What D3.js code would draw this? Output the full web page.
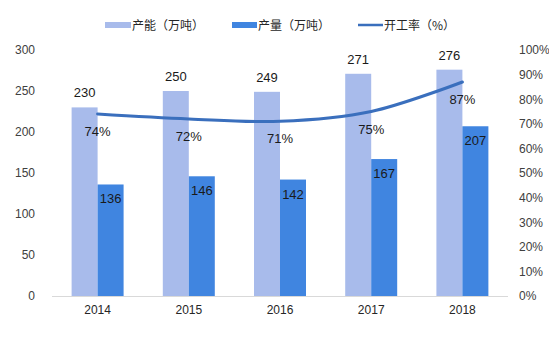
<!DOCTYPE html>
<html>
<head>
<meta charset="utf-8">
<script src="https://cdn.jsdelivr.net/npm/d3@7"></script>
<style>
  html, body { margin: 0; padding: 0; background: #fff; }
  svg { display: block; font-family: "Liberation Sans", Arial, "Noto Sans CJK SC", sans-serif; }
</style>
</head>
<body>
<svg id="chart" width="549" height="340"></svg>
<script>
// Capacity, output and utilisation rate by year
const years = ["2014", "2015", "2016", "2017", "2018"];
const capacity = [230, 250, 249, 271, 276];     // 产能（万吨）
const output = [136, 146, 142, 167, 207];       // 产量（万吨）
const rate = [74, 72, 71, 75, 87];              // 开工率（%）
const leftTicks = [0, 50, 100, 150, 200, 250, 300];
const rightTicks = [0, 10, 20, 30, 40, 50, 60, 70, 80, 90, 100];
const seriesNames = ["产能（万吨）", "产量（万吨）", "开工率（%）"];

const colors = { cap: "#a8bbeb", out: "#4085e0", rate: "#3a6fbd" };
const svg = d3.select("#chart");
const plot = { left: 52, right: 508, top: 50, bottom: 296 };

const x0 = d3.scaleBand().domain(years).range([plot.left, plot.right])
  .paddingInner(0.43).paddingOuter(0.215);
const x1 = d3.scaleBand().domain(["cap", "out"]).range([0, x0.bandwidth()]);
const yL = d3.scaleLinear().domain([0, 300]).range([plot.bottom, plot.top]);
const yR = d3.scaleLinear().domain([0, 100]).range([plot.bottom, plot.top]);
const cx = d => x0(d) + x0.bandwidth() / 2;

// left axis
const axL = svg.append("g").attr("transform", `translate(${plot.left},0)`)
  .call(d3.axisLeft(yL).tickValues(leftTicks).tickSize(0).tickPadding(17));
axL.select(".domain").remove();
axL.selectAll("text").attr("fill", "#404040").attr("font-size", 12)
  .attr("font-family", "Liberation Sans, Arial, sans-serif");

// right axis
const axR = svg.append("g").attr("transform", `translate(${plot.right},0)`)
  .call(d3.axisRight(yR).tickValues(rightTicks).tickSize(0).tickPadding(11)
    .tickFormat(d => d + "%"));
axR.select(".domain").remove();
axR.selectAll("text").attr("fill", "#404040").attr("font-size", 12)
  .attr("font-family", "Liberation Sans, Arial, sans-serif");

// bottom axis
const axB = svg.append("g").attr("transform", `translate(0,${plot.bottom})`)
  .call(d3.axisBottom(x0).tickSize(0).tickPadding(9));
axB.select(".domain").attr("stroke", "#d9d9d9").attr("stroke-width", 1)
  .attr("d", `M${plot.left},0.5H${plot.right}`);
axB.selectAll("text").attr("fill", "#262626").attr("font-size", 12)
  .attr("font-family", "Liberation Sans, Arial, sans-serif");

// bars
const groups = svg.append("g").selectAll("g").data(years).join("g")
  .attr("transform", d => `translate(${x0(d)},0)`);
groups.append("rect")
  .attr("x", x1("cap")).attr("width", x1.bandwidth())
  .attr("y", (d, i) => yL(capacity[i]))
  .attr("height", (d, i) => yL(0) - yL(capacity[i]))
  .attr("fill", colors.cap);
groups.append("rect")
  .attr("x", x1("out")).attr("width", x1.bandwidth())
  .attr("y", (d, i) => yL(output[i]))
  .attr("height", (d, i) => yL(0) - yL(output[i]))
  .attr("fill", colors.out);

// utilisation line
const line = d3.line()
  .x((d, i) => cx(years[i]))
  .y(d => yR(d))
  .curve(d3.curveCatmullRom.alpha(0.5));
svg.append("path").datum(rate).attr("d", line)
  .attr("fill", "none").attr("stroke", colors.rate).attr("stroke-width", 3)
  .attr("stroke-linecap", "round");

// value labels
const lbl = svg.append("g").attr("font-size", 13).attr("fill", "#1a1a1a")
  .attr("text-anchor", "middle").attr("font-family", "Liberation Sans, Arial, sans-serif");
lbl.selectAll(".cap").data(capacity).join("text")
  .attr("x", (d, i) => x0(years[i]) + x1("cap") + x1.bandwidth() / 2)
  .attr("y", d => yL(d) - 10).text(d => d);
lbl.selectAll(".out").data(output).join("text")
  .attr("x", (d, i) => x0(years[i]) + x1("out") + x1.bandwidth() / 2)
  .attr("y", d => yL(d) + 19).text(d => d);
lbl.selectAll(".rate").data(rate).join("text")
  .attr("x", (d, i) => cx(years[i]))
  .attr("y", d => yR(d) + 22).text(d => d + "%");

// legend
const legend = svg.append("g").attr("font-size", 12).attr("fill", "#262626")
  .attr("font-family", "Noto Sans CJK SC, sans-serif");
const legItems = [
  { x: 105, w: 26, h: 6, c: colors.cap, name: seriesNames[0] },
  { x: 232, w: 25, h: 6, c: colors.out, name: seriesNames[1] },
  { x: 358, w: 25, h: 2.5, c: colors.rate, name: seriesNames[2] }
];
legItems.forEach(it => {
  legend.append("rect").attr("x", it.x).attr("y", 25 - it.h / 2)
    .attr("width", it.w).attr("height", it.h).attr("fill", it.c);
  legend.append("text").attr("x", it.x + it.w + 1).attr("y", 29.5).text(it.name);
});
</script>
</body>
</html>
